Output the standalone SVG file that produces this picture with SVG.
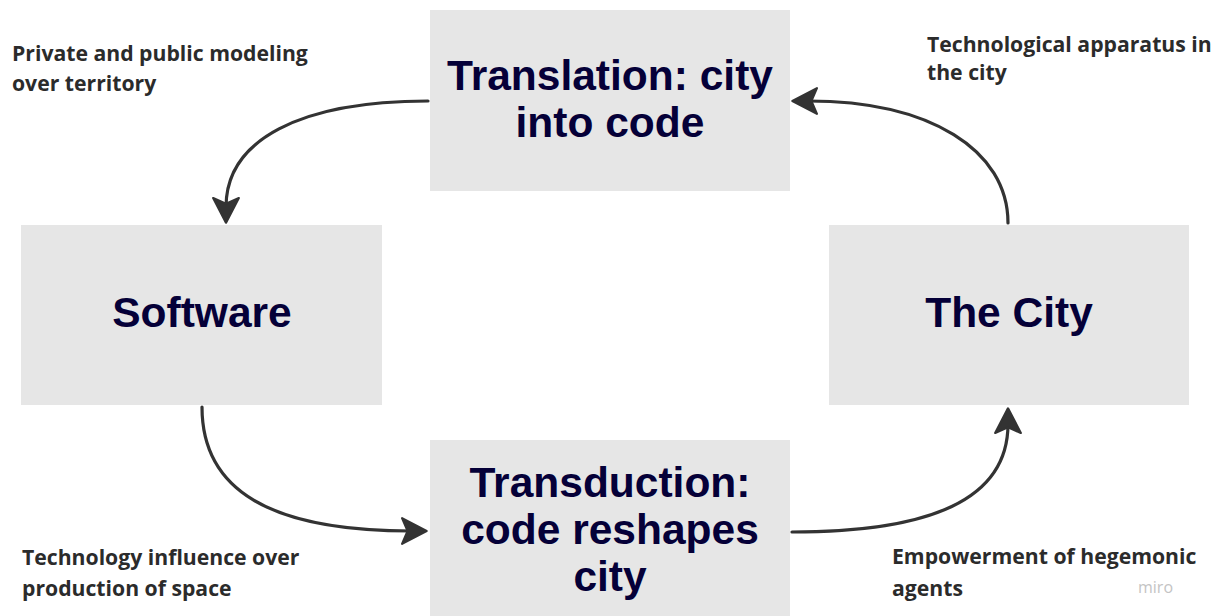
<svg xmlns="http://www.w3.org/2000/svg" width="1216" height="616" viewBox="0 0 1216 616">
  <style>
    .box { fill: #e6e6e6; }
    .title { font-family: "Liberation Sans", Arial, sans-serif; font-weight: bold; font-size: 42.5px; fill: #050038; text-anchor: middle; }
    .note { font-family: "Open Sans", "Liberation Sans", sans-serif; font-weight: bold; font-size: 21.2px; fill: #2b2b2b; }
    .link { fill: none; stroke: #333333; stroke-width: 3.2; stroke-linecap: round; }
    .brand { font-family: "Open Sans", "Liberation Sans", sans-serif; font-size: 16px; fill: #c4c4c4; }
  </style>
  <defs>
    <marker id="head" viewBox="0 0 24 26" markerWidth="27" markerHeight="29" markerUnits="userSpaceOnUse" refX="9" refY="13" orient="auto">
      <path d="M1,1.5 L23,13 L1,24.5 L6,13 Z" fill="#333333" stroke="#333333" stroke-width="2" stroke-linejoin="round"/>
    </marker>
  </defs>
  <rect width="1216" height="616" fill="#ffffff"/>

  <g id="node-translation">
    <rect class="box" x="430" y="10" width="360" height="181"/>
    <text class="title" x="610" y="90">Translation: city</text>
    <text class="title" x="610" y="137">into code</text>
  </g>

  <g id="node-software">
    <rect class="box" x="21" y="225" width="361" height="180"/>
    <text class="title" x="202" y="327">Software</text>
  </g>

  <g id="node-city">
    <rect class="box" x="829" y="225" width="360" height="180"/>
    <text class="title" x="1009" y="327">The City</text>
  </g>

  <g id="node-transduction">
    <rect class="box" x="430" y="440" width="360" height="190"/>
    <text class="title" x="610" y="497">Transduction:</text>
    <text class="title" x="610" y="544">code reshapes</text>
    <text class="title" x="610" y="591">city</text>
  </g>

  <g id="connectors">
    <path class="link" d="M428,101 C300,101 226,140 226,207" marker-end="url(#head)"/>
    <path class="link" d="M1008,223 C1008,150 930,101 808,101" marker-end="url(#head)"/>
    <path class="link" d="M202,407 C202,490 270,531 411,531" marker-end="url(#head)"/>
    <path class="link" d="M792,532 C930,532 1008,500 1008,424" marker-end="url(#head)"/>
  </g>

  <g id="notes">
    <text class="note" x="12" y="61">Private and public modeling</text>
    <text class="note" x="12" y="91">over territory</text>
    <text class="note" x="927" y="52">Technological apparatus  in</text>
    <text class="note" x="927" y="80">the city</text>
    <text class="note" x="22" y="565">Technology influence over</text>
    <text class="note" x="22" y="596">production of space</text>
    <text class="note" x="892" y="564">Empowerment of hegemonic</text>
    <text class="note" x="892" y="596">agents</text>
    <text class="brand" x="1138" y="593">miro</text>
  </g>
</svg>
